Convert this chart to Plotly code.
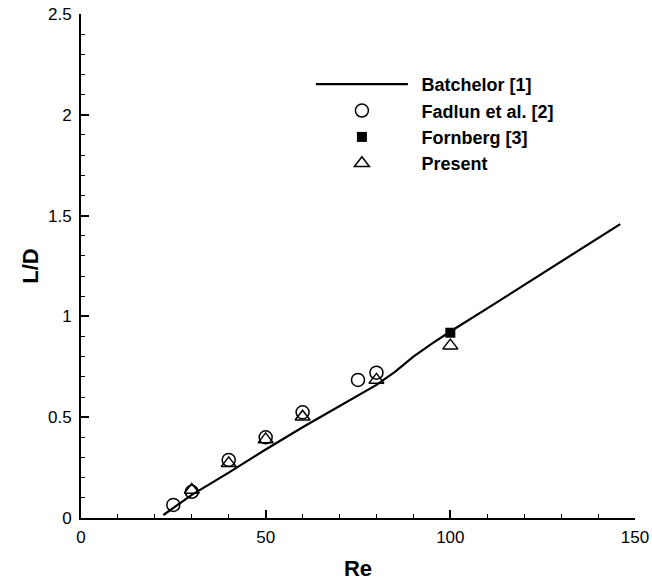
import plotly.graph_objects as go

# Batchelor [1] curve
bat_re = [22.3, 30, 40, 50, 60, 70, 80, 85, 90, 95, 100, 110, 120, 130, 146]
bat_ld = [0.015, 0.115, 0.225, 0.34, 0.45, 0.555, 0.66, 0.725, 0.80, 0.865, 0.925, 1.04, 1.155, 1.27, 1.458]

# Fadlun et al. [2]
fad_re = [25, 30, 40, 50, 60, 75, 80]
fad_ld = [0.065, 0.13, 0.288, 0.40, 0.524, 0.685, 0.721]

# Fornberg [3]
forn_re = [100]
forn_ld = [0.919]

# Present
pre_re = [30, 40, 50, 60, 80, 100]
pre_ld = [0.139, 0.271, 0.39, 0.502, 0.685, 0.855]

FONT = "Liberation Sans, Arial, Helvetica, sans-serif"
SP = "\u00a0\u2009"

fig = go.Figure()
fig.add_trace(go.Scatter(x=bat_re, y=bat_ld, mode="lines", name=SP + "<b>Batchelor [1]</b>",
                         line=dict(color="black", width=2.2)))
fig.add_trace(go.Scatter(x=fad_re, y=fad_ld, mode="markers", name=SP + "<b>Fadlun et al. [2]</b>",
                         marker=dict(symbol="circle-open", size=13, color="black",
                                     line=dict(width=1.5, color="black"))))
fig.add_trace(go.Scatter(x=forn_re, y=forn_ld, mode="markers", name=SP + "<b>Fornberg [3]</b>",
                         marker=dict(symbol="square", size=10, color="black")))
fig.add_trace(go.Scatter(x=pre_re, y=pre_ld, mode="markers", name=SP + "<b>Present</b>",
                         marker=dict(symbol="triangle-up-open", size=13, color="black",
                                     line=dict(width=1.5, color="black"))))

axis_common = dict(
    showgrid=False, zeroline=False, showline=True, linecolor="black", linewidth=2,
    ticks="inside", ticklen=8, tickwidth=1.5, tickcolor="black", automargin=False,
    tickfont=dict(family=FONT, size=17, color="black"),
)

fig.update_xaxes(range=[0, 150], dtick=50, tick0=0,
                 minor=dict(dtick=10, ticks="inside", ticklen=4, tickwidth=1.2, tickcolor="black"),
                 title=dict(text="<b>Re</b>", font=dict(family=FONT, size=22, color="black"), standoff=21),
                 ticklabelstandoff=3,
                 **axis_common)
fig.update_yaxes(range=[0, 2.5], dtick=0.5, tick0=0,
                 minor=dict(dtick=0.1, ticks="inside", ticklen=4, tickwidth=1.2, tickcolor="black"),
                 title=dict(text="<b>L/D</b>", font=dict(family=FONT, size=22, color="black"), standoff=3),
                 ticklabelstandoff=4,
                 **axis_common)

fig.update_layout(
    width=652, height=581,
    margin=dict(l=81, r=17, t=14, b=63),
    paper_bgcolor="white", plot_bgcolor="white",
    showlegend=True,
    legend=dict(x=0.415, y=0.897, xanchor="left", yanchor="top",
                bgcolor="rgba(0,0,0,0)", itemwidth=92,
                font=dict(family=FONT, size=18, color="black"),
                tracegroupgap=0),
)

fig.write_html("out.html")
